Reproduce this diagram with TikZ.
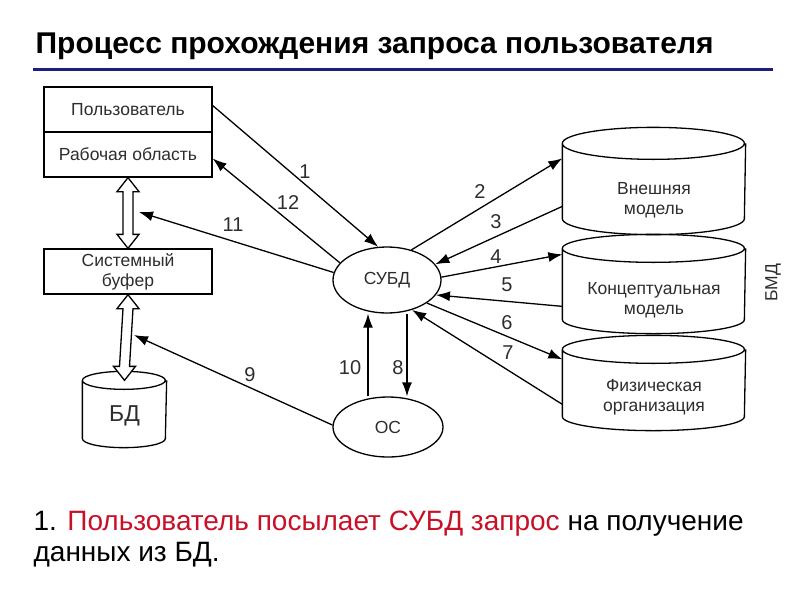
\documentclass[tikz,border=0pt]{standalone}
\usepackage{fontspec}
\setmainfont{Liberation Sans}
\usetikzlibrary{arrows.meta,calc,shapes.geometric}
\definecolor{navyline}{RGB}{30,30,125}
\definecolor{notered}{RGB}{200,16,40}
\definecolor{inkgray}{RGB}{45,45,45}

\newcommand{\hollowarrow}[2]{%
  \draw[fill=white] (#1) -- ++(11,14) -- ++(-6,0) -- ($(#2)+(5,-14)$) -- ++(6,0) -- (#2)
    -- ++(-11,-14) -- ++(6,0) -- ($(#1)+(-5,14)$) -- ++(-6,0) -- cycle;}
\newcommand{\cylout}[3]{%
  \draw (#1.north west) arc[start angle=180,end angle=-180,x radius=#2,y radius=#3]
        (#1.north west) -- (#1.south west) arc[start angle=180,end angle=360,x radius=#2,y radius=#3] -- (#1.north east);}

\begin{document}
\begin{tikzpicture}[x=1pt,y=-1pt,line width=1.3pt,
  box/.style = {rectangle,draw,minimum width=168pt,minimum height=45pt,inner sep=0pt,text=inkgray,align=center,font=\fontsize{17.5}{20}\selectfont},
  cyl/.style = {rectangle,minimum width=182pt,inner sep=0pt},
  lbl/.style = {text=inkgray,align=center,font=\fontsize{17.5}{20}\selectfont},
  oval/.style = {ellipse,draw,inner sep=0pt,text=inkgray,font=\fontsize{17.5}{20}\selectfont},
  num/.style = {text=inkgray,font=\fontsize{20}{22}\selectfont},
  link/.style = {-{Latex[length=14pt,width=10pt]}}]
\useasboundingbox (0,0) rectangle (800,600);
\node[anchor=base west,inner sep=0pt,font=\fontsize{30}{34}\selectfont\bfseries] (title) at (35,53) {Процесс прохождения запроса пользователя};
\draw[navyline,line width=3pt] (33,69) -- (773,69);
\node[box] (user) at (128,109.5) {Пользователь};
\node[box] (work) at (128,154.5) {Рабочая область};
\node[box] (buf) at (128,271.5) {Системный\\буфер};
\node[cyl,minimum width=83pt,minimum height=57pt] (db) at (124.5,409.5) {};
\cylout{db}{41.5pt}{9pt}
\node[lbl,font=\fontsize{23}{24}\selectfont] (dbt) at (124.5,416) {БД};
\hollowarrow{work.south}{buf.north}
\hollowarrow{buf.south}{db.north}
\node[cyl,minimum height=74pt] (ext) at (654,181) {};
\node[cyl,minimum height=70pt] (conc) at (654,284) {};
\node[cyl,minimum height=66pt] (phys) at (654,383) {};
\cylout{ext}{91pt}{16pt}
\foreach \c in {conc,phys}
    {\cylout{\c}{91pt}{14pt}}
\node[lbl] (extt) at (654,200) {Внешняя\\модель};
\node[lbl] (conct) at (654,300) {Концептуальная\\модель};
\node[lbl] (physt) at (654,397) {Физическая\\организация};
\node[lbl,rotate=90] (bmd) at (773,283) {БМД};
\node[oval,minimum width=108pt,minimum height=66pt] (dbms) at (387,280) {СУБД};
\node[oval,minimum width=110pt,minimum height=60pt] (os) at (388,427) {ОС};
\coordinate (in11) at (139,212);
\coordinate (in9) at (134,335);
\draw[link] ([yshift=4pt]user.east) -- (dbms.105);
\draw[link] (dbms.160) -- ([yshift=-4pt]work.east);
\draw[link] (dbms.172) -- (in11);
\draw[link] (os.178) -- (in9);
\draw[link] ([xshift=-20pt]os.north) -- ([xshift=-19pt]dbms.south);
\draw[link] ([xshift=20pt]dbms.south) -- ([xshift=19pt]os.north);
\draw[link] (dbms.51) -- ([yshift=-15pt]ext.north west);
\draw[link] ([yshift=-63pt]ext.north west) -- (dbms.18);
\draw[link] (dbms.3) -- ([yshift=-6pt]conc.north west);
\draw[link] ([yshift=-58pt]conc.north west) -- (dbms.-17);
\draw[link] (dbms.-30) -- ([yshift=-10pt]phys.north west);
\draw[link] ([yshift=-55pt]phys.north west) -- (dbms.-50);
\foreach \n/\x/\y in {1/305/172, 12/288/203, 11/233/225, 2/480/192, 3/496/222, 4/496/257,
                      5/507/285, 6/507/323, 7/508/353, 10/350/368, 8/398/368, 9/250/375}
    \node[num] (l\n) at (\x,\y) {\n};
\node[anchor=base west,align=left,inner sep=0pt,font=\fontsize{28}{31}\selectfont] (note) at (33,561)
  {1. \textcolor{notered}{Пользователь посылает СУБД запрос} на получение\\данных из БД.};
\end{tikzpicture}
\end{document}
